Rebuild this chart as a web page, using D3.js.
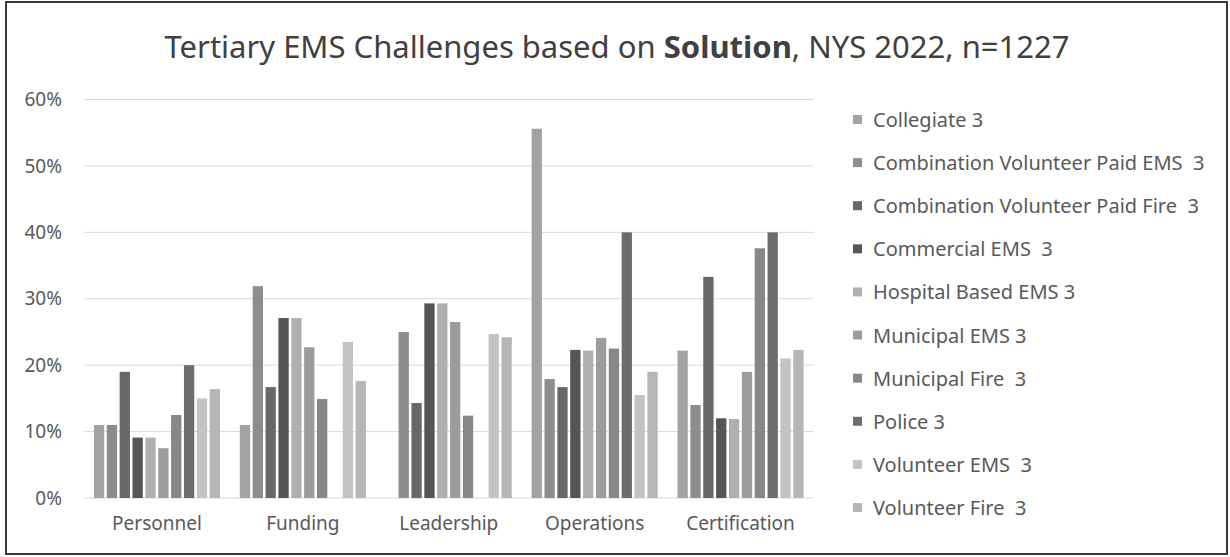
<!DOCTYPE html>
<html>
<head>
<meta charset="utf-8">
<script src="https://cdn.jsdelivr.net/npm/d3@7"></script>
<style>
  body { margin: 0; background: #fff; }
  text { font-family: "Noto Sans", sans-serif; }
</style>
</head>
<body>
<svg id="chart" width="1230" height="557"></svg>
<script>
const categories = ["Personnel", "Funding", "Leadership", "Operations", "Certification"];
const seriesNames = [
  "Collegiate 3",
  "Combination Volunteer Paid EMS  3",
  "Combination Volunteer Paid Fire  3",
  "Commercial EMS  3",
  "Hospital Based EMS 3",
  "Municipal EMS 3",
  "Municipal Fire  3",
  "Police 3",
  "Volunteer EMS  3",
  "Volunteer Fire  3"
];
// percent values, one array per series, in category order
const collegiate    = [11.0, 11.0,  0.0, 55.6, 22.2];
const combEms       = [11.0, 31.9, 25.0, 17.9, 14.0];
const combFire      = [19.0, 16.7, 14.3, 16.7, 33.3];
const commercialEms = [ 9.1, 27.1, 29.3, 22.3, 12.0];
const hospitalEms   = [ 9.1, 27.1, 29.3, 22.2, 11.9];
const municipalEms  = [ 7.5, 22.7, 26.5, 24.1, 19.0];
const municipalFire = [12.5, 14.9, 12.4, 22.5, 37.6];
const police        = [20.0,  0.0,  0.0, 40.0, 40.0];
const volunteerEms  = [15.0, 23.5, 24.7, 15.5, 21.0];
const volunteerFire = [16.4, 17.6, 24.2, 19.0, 22.3];
const yTicks = [0, 10, 20, 30, 40, 50, 60];

const values = [collegiate, combEms, combFire, commercialEms, hospitalEms,
                municipalEms, municipalFire, police, volunteerEms, volunteerFire];
const colors = ["#a3a3a3", "#8d8d8d", "#686868", "#555555", "#b0b0b0",
                "#9c9c9c", "#878787", "#6c6c6c", "#c3c3c3", "#b6b6b6"];

const svg = d3.select("#chart");

// outer frame
svg.append("rect")
  .attr("x", 6).attr("y", 2).attr("width", 1221).attr("height", 552)
  .attr("fill", "none").attr("stroke", "#3a3a3a").attr("stroke-width", 2);

const plot = { left: 84, right: 813.5, top: 99.5, bottom: 498 };

const x0 = d3.scaleBand().domain(categories).range([plot.left, plot.right]);
const x1 = d3.scaleBand().domain(seriesNames)
  .range([x0.bandwidth() * 0.068, x0.bandwidth() * 0.932])
  .paddingInner(0.2);
const y = d3.scaleLinear().domain([0, 60]).range([plot.bottom, plot.top]);

// gridlines
svg.append("g")
  .selectAll("line")
  .data(yTicks)
  .join("line")
    .attr("x1", plot.left).attr("x2", plot.right)
    .attr("y1", d => y(d)).attr("y2", d => y(d))
    .attr("stroke", "#d9d9d9").attr("stroke-width", 1);

// bars
const rows = [];
categories.forEach((c, ci) => {
  seriesNames.forEach((s, si) => {
    rows.push({ cat: c, series: s, si: si, v: values[si][ci] });
  });
});

svg.append("g")
  .selectAll("rect")
  .data(rows.filter(d => d.v > 0))
  .join("rect")
    .attr("x", d => x0(d.cat) + x1(d.series))
    .attr("y", d => y(d.v))
    .attr("width", x1.bandwidth())
    .attr("height", d => y(0) - y(d.v))
    .attr("fill", d => colors[d.si]);

// y axis labels
const yAxis = svg.append("g")
  .attr("transform", `translate(${plot.left}, 0)`)
  .call(d3.axisLeft(y).tickValues(yTicks).tickFormat(d => d + "%").tickSize(0).tickPadding(22));
yAxis.select(".domain").remove();
yAxis.selectAll("text")
  .attr("fill", "#595959").style("font-size", "19px");

// x axis labels
const xAxis = svg.append("g")
  .attr("transform", `translate(0, ${plot.bottom})`)
  .call(d3.axisBottom(x0).tickSize(0).tickPadding(19));
xAxis.select(".domain").remove();
xAxis.selectAll("text")
  .attr("fill", "#595959").style("font-size", "19px");

// title
const title = svg.append("text")
  .attr("x", 617).attr("y", 58)
  .attr("text-anchor", "middle")
  .attr("fill", "#404040")
  .style("font-size", "31px");
title.append("tspan").text("Tertiary EMS Challenges based on ");
title.append("tspan").attr("font-weight", "bold").text("Solution");
title.append("tspan").text(", NYS 2022, n=1227");

// legend
const legend = svg.append("g");
const legendY = d3.scalePoint().domain(seriesNames).range([120, 508]);
const items = legend.selectAll("g")
  .data(seriesNames)
  .join("g")
    .attr("transform", d => `translate(853, ${legendY(d)})`);
items.append("rect")
  .attr("x", 0).attr("y", -5).attr("width", 9).attr("height", 9)
  .attr("fill", (d, i) => colors[i]);
items.append("text")
  .attr("x", 20).attr("y", 0).attr("dy", "0.35em")
  .attr("fill", "#595959")
  .style("font-size", "20px")
  .style("white-space", "pre")
  .text(d => d);
</script>
</body>
</html>
